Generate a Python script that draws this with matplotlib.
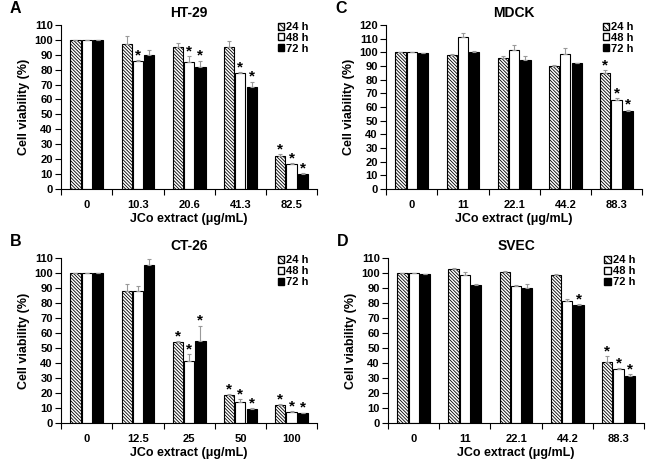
import numpy as np
import matplotlib
matplotlib.use('Agg')
import matplotlib.pyplot as plt
from matplotlib.patches import Patch

plt.rcParams['font.family'] = ['Liberation Sans', 'DejaVu Sans']
plt.rcParams['font.weight'] = 'bold'
plt.rcParams['hatch.linewidth'] = 0.6

series = ['24 h', '48 h', '72 h']

# HT-29
ht_doses = ['0', '10.3', '20.6', '41.3', '82.5']
ht_mean = [[100, 97.5, 95, 95.5, 22],
           [100, 85.5, 85, 78, 17],
           [100, 90, 82, 68.5, 10]]
ht_err = [[0, 5, 3, 3.5, 1.5],
          [0, 1, 4, 0.5, 0.5],
          [0, 3.5, 4, 3.5, 0.5]]
ht_star = [[0, 0, 0, 0, 1],
           [0, 1, 1, 1, 1],
           [0, 0, 1, 1, 1]]

# CT-26
ct_doses = ['0', '12.5', '25', '50', '100']
ct_mean = [[100, 88, 54, 19, 12],
           [100, 88, 41.5, 14, 7.5],
           [100, 105.5, 54.5, 9.5, 6.5]]
ct_err = [[0, 4.5, 0.5, 0.5, 0.5],
          [0, 3.5, 4.5, 2, 0.5],
          [0, 4, 10.5, 0.5, 0.5]]
ct_star = [[0, 0, 1, 1, 1],
           [0, 0, 1, 1, 1],
           [0, 0, 1, 1, 1]]

# MDCK
md_doses = ['0', '11', '22.1', '44.2', '88.3']
md_mean = [[100, 98, 96, 90, 85],
           [100, 111, 102, 99, 65],
           [99.5, 100.5, 94, 92, 57]]
md_err = [[0, 1, 1.5, 0.5, 2],
          [0, 3, 3, 4, 1.5],
          [0, 0.5, 3, 0.5, 1]]
md_star = [[0, 0, 0, 0, 1],
           [0, 0, 0, 0, 1],
           [0, 0, 0, 0, 1]]

# SVEC
sv_doses = ['0', '11', '22.1', '44.2', '88.3']
sv_mean = [[100, 103, 101, 99, 41],
           [100, 98.5, 91.5, 81.5, 36],
           [99.5, 92, 90, 78.5, 31.5]]
sv_err = [[0, 0.5, 0.5, 0.5, 3.5],
          [0, 2, 0.5, 1, 0.5],
          [0, 0.5, 3, 1, 1]]
sv_star = [[0, 0, 0, 0, 1],
           [0, 0, 0, 0, 1],
           [0, 0, 0, 1, 1]]

HATCH = '\\' * 10


def draw_panel(ax, letter, title, doses, means, errs, stars, ymax):
    x = np.arange(len(doses)) + 0.5
    w = 0.2
    offs = [-0.22, 0, 0.22]
    styles = [dict(facecolor='white', hatch=HATCH),
              dict(facecolor='white'),
              dict(facecolor='black')]
    for i in range(3):
        xs = x + offs[i]
        ax.bar(xs, means[i], w, edgecolor='black', linewidth=0.8, **styles[i])
        ax.errorbar(xs, means[i], yerr=[np.zeros(len(doses)), errs[i]], fmt='none',
                    ecolor='#999999', elinewidth=0.8, capsize=1.5, capthick=0.8)
        for j in range(len(doses)):
            if stars[i][j]:
                ax.text(xs[j], means[i][j] + errs[i][j] - 1.5, '*', ha='center',
                        va='bottom', fontsize=11, fontweight='bold')
    ax.set_xlim(0, len(doses))
    ax.set_ylim(0, ymax)
    ax.set_yticks(np.arange(0, ymax + 1, 10))
    ax.set_xticks(np.arange(len(doses) + 1))
    ax.set_xticklabels([])
    ax.set_xticks(x, minor=True)
    ax.set_xticklabels(doses, minor=True)
    ax.tick_params(axis='x', which='minor', length=0, pad=8, labelsize=8)
    ax.tick_params(axis='x', which='major', length=4, width=0.8, direction='out')
    ax.tick_params(axis='y', length=4, width=0.8, labelsize=8, pad=2)
    for s in ['top', 'right']:
        ax.spines[s].set_visible(False)
    for s in ['left', 'bottom']:
        ax.spines[s].set_linewidth(0.8)
    ax.set_ylabel('Cell viability (%)', fontsize=9, fontweight='bold', labelpad=3)
    ax.set_xlabel('JCo extract (μg/mL)', fontsize=9, fontweight='bold', labelpad=2)
    ax.set_title(title, fontsize=10, fontweight='bold', pad=6)
    ax.text(-0.2, 1.1, letter, transform=ax.transAxes, fontsize=11.5, fontweight='bold',
            va='center', ha='left')
    handles = [Patch(facecolor='white', edgecolor='black', hatch='\\' * 6, label=series[0]),
               Patch(facecolor='white', edgecolor='black', label=series[1]),
               Patch(facecolor='black', edgecolor='black', label=series[2])]
    ax.legend(handles=handles, loc='upper right', bbox_to_anchor=(0.985, 1.045), frameon=False,
              fontsize=8, handlelength=0.6, handleheight=0.6, handletextpad=0.2,
              labelspacing=0.08, borderaxespad=0)


fig = plt.figure(figsize=(6.5, 4.61), dpi=100)
axA = fig.add_axes([0.094, 0.590, 0.394, 0.356])
axC = fig.add_axes([0.594, 0.590, 0.394, 0.356])
axB = fig.add_axes([0.094, 0.082, 0.394, 0.358])
axD = fig.add_axes([0.597, 0.082, 0.394, 0.358])

draw_panel(axA, 'A', 'HT-29', ht_doses, ht_mean, ht_err, ht_star, 110)
draw_panel(axC, 'C', 'MDCK', md_doses, md_mean, md_err, md_star, 120)
draw_panel(axB, 'B', 'CT-26', ct_doses, ct_mean, ct_err, ct_star, 110)
draw_panel(axD, 'D', 'SVEC', sv_doses, sv_mean, sv_err, sv_star, 110)

fig.savefig('out.png', dpi=100)
